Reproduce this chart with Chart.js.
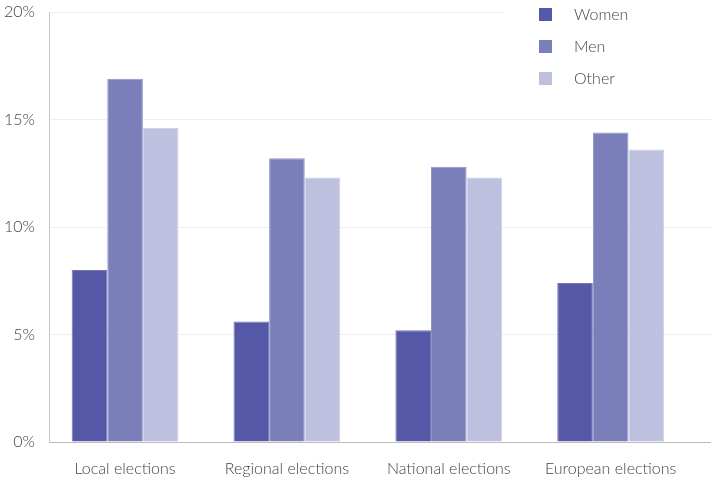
<!DOCTYPE html>
<html>
<head>
<meta charset="utf-8">
<script src="https://cdn.jsdelivr.net/npm/chart.js@4.4.1/dist/chart.umd.min.js"></script>
<style>
  html, body { margin: 0; padding: 0; background: #ffffff; }
  #wrap { width: 711px; height: 480px; }
</style>
</head>
<body>
<div id="wrap"><canvas id="chart" width="711" height="480"></canvas></div>
<script>
// Election categories and share of candidates per group (%)
const categories = ['Local elections', 'Regional elections', 'National elections', 'European elections'];
const seriesNames = ['Women', 'Men', 'Other'];
const women = [8.0, 5.6, 5.2, 7.4];
const men = [16.9, 13.2, 12.8, 14.4];
const other = [14.6, 12.3, 12.3, 13.6];
const yTicks = [0, 5, 10, 15, 20];

const fills = ['#5558a6', '#7b7fb9', '#bec0df'];
const edges = ['#7275b6', '#9093c6', '#d0d1ea'];
const textColor = '#444444';

// Solid square swatches used as legend markers
function swatch(color) {
  const c = document.createElement('canvas');
  c.width = 13; c.height = 13;
  const g = c.getContext('2d');
  g.fillStyle = color;
  g.fillRect(0, 0, 13, 13);
  return c;
}
const swatches = fills.map(swatch);

const seriesValues = [women, men, other];
const datasets = seriesNames.map((name, s) => ({
  label: name,
  data: seriesValues[s].map((v, i) => ({ x: i, y: v })),
  backgroundColor: fills[s],
  borderColor: edges[s],
  borderWidth: 1,
  categoryPercentage: 0.66,
  barPercentage: 1.0
}));

// Places the legend in the top-right corner over a white panel
const legendPanel = {
  id: 'legendPanel',
  afterLayout(chart) {
    const lg = chart.legend;
    if (!lg) return;
    const w = lg.width;
    lg.left = 509;
    lg.right = lg.left + w;
    lg.top = -9.5;
    lg.bottom = 200;
    lg.height = lg.bottom - lg.top;
  },
  beforeDatasetsDraw(chart) {
    const lg = chart.legend;
    if (!lg) return;
    const ctx = chart.ctx;
    ctx.save();
    ctx.fillStyle = '#ffffff';
    ctx.fillRect(503, 0, chart.width - 503, 96);
    ctx.restore();
    lg.draw();
  }
};

Chart.defaults.font.family = 'Lato, "Open Sans", sans-serif';
Chart.defaults.font.size = 16;
Chart.defaults.font.weight = '300';
Chart.defaults.color = textColor;

new Chart(document.getElementById('chart'), {
  type: 'bar',
  data: { datasets },
  options: {
    responsive: false,
    animation: false,
    devicePixelRatio: 1,
    layout: { padding: { top: 12, right: 0, left: 0, bottom: 0 } },
    plugins: {
      tooltip: { enabled: false },
      legend: {
        position: 'chartArea',
        align: 'start',
        labels: {
          usePointStyle: true,
          pointStyleWidth: 41,
          padding: 16,
          color: textColor,
          font: { size: 16, weight: '300' },
          generateLabels(chart) {
            return Chart.defaults.plugins.legend.labels.generateLabels(chart)
              .map((item, i) => Object.assign(item, { pointStyle: swatches[i], lineWidth: 0 }));
          }
        }
      }
    },
    scales: {
      x: {
        type: 'linear',
        offset: false,
        min: -0.47,
        max: 3.62,
        afterBuildTicks(scale) { scale.ticks = categories.map((_, i) => ({ value: i })); },
        afterFit(scale) { scale.height = 38; },
        grid: { display: false, drawTicks: false, offset: false },
        border: { display: true, color: '#bbbbbb', width: 1 },
        ticks: {
          padding: 17,
          autoSkip: false,
          maxRotation: 0,
          color: textColor,
          callback: (v) => categories[v] ?? ''
        }
      },
      y: {
        min: 0,
        max: 20,
        afterBuildTicks(scale) { scale.ticks = yTicks.map(v => ({ value: v })); },
        afterFit(scale) {
          scale.width = 49;
          scale.paddingTop = 0;
          scale.paddingBottom = 0;
        },
        grid: { color: '#efefef', drawTicks: false },
        border: { display: true, color: '#c8c8c8', width: 1 },
        ticks: {
          padding: 14,
          color: textColor,
          callback: (v) => v + '%'
        }
      }
    }
  },
  plugins: [legendPanel]
});
</script>
</body>
</html>
